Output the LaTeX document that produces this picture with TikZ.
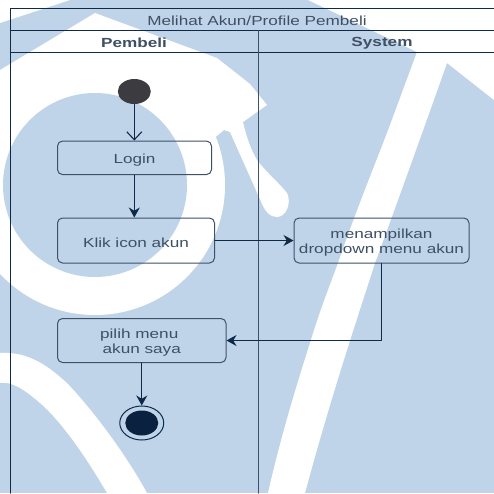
\documentclass[tikz,border=0pt]{standalone}
\usepackage{fontspec}
\setmainfont{Liberation Sans}[FakeStretch=1.3]
\usepackage{xcolor}
\usetikzlibrary{arrows.meta}
\usetikzlibrary{shapes.geometric}
\newcommand{\lowertext}[1]{\raisebox{-2pt}[\height][\depth]{#1}}
\definecolor{wmblue}{HTML}{BFD4E9}
\definecolor{navyline}{HTML}{0F2A47}
\definecolor{boxline}{HTML}{3D5268}
\definecolor{textgray}{HTML}{3F5064}
\definecolor{startgray}{HTML}{3C3C40}
\definecolor{endnavy}{HTML}{0A2240}
\tikzset{
  every node/.style={font=\fontsize{13.2}{15.4}\selectfont,text=textgray,inner sep=0pt},
  action/.style={draw=boxline,line width=1pt,rounded corners=5pt,align=center},
  lanehead/.style={font=\fontsize{13.2}{15.4}\selectfont\bfseries}
}
\begin{document}
\begin{tikzpicture}[line cap=round,line join=round,>={Stealth[length=10pt,width=11pt]},x=1pt,y=-1pt]
            \useasboundingbox (0,0) rectangle (494,493);
            \fill[color=wmblue] (0,0) rectangle (494,493);
            % watermark, white parts
            \fill[white] (0,0) -- (70,0) -- (0,23) -- cycle;
            \fill[white] (95,185) circle (130);
            \fill[white] (0,70) -- (95,13) -- (217,58) -- (250,84) -- (267,105) -- (243,122)
                .. controls (246,135) and (250,148) .. (257,160)
                .. controls (266,172) and (280,184) .. (287,193)
                .. controls (292,203) and (286,217) .. (277,217)
                .. controls (270,217) and (266,212) .. (263,206)
                -- (230,132) -- (224,130) -- (200,150) -- (0,150) -- cycle;
            \fill[wmblue] (95,185) circle (92);
            \fill[white] (308,0) -- (494,0) -- (494,100) -- (447,63)
                .. controls (425,125) and (400,195) .. (375,263)
                .. controls (355,325) and (330,400) .. (305,493) -- (268,493)
                .. controls (280,440) and (295,390) .. (310,343)
                .. controls (320,310) and (330,285) .. (338,263)
                .. controls (360,200) and (375,165) .. (390,125) -- (417,52) -- cycle;
            \fill[white] (0,353) .. controls (30,351) and (50,368) .. (67,383)
                .. controls (100,418) and (130,462) .. (147,493) -- (107,493)
                .. controls (85,455) and (60,420) .. (40,403)
                .. controls (25,390) and (12,381) .. (0,383) -- cycle;
            % swimlane
            \draw [line width=1pt,color=navyline] (10.5,493) -- (10.5,8) -- (494,8);
            \draw [line width=1pt,color=navyline] (10.5,30.5) -- (494,30.5);
            \draw [line width=1pt,color=navyline] (10.5,52.5) -- (494,52.5);
            \draw [line width=1pt,color=boxline] (258,30.5) -- (258,493);
            \node (title) at (257,21) {Melihat Akun/Profile Pembeli};
            \node[lanehead] (pembeli) at (134,43) {Pembeli};
            \node[lanehead] (system) at (382,43) {System};
            % nodes
            \node[ellipse,fill=startgray,minimum width=33pt,minimum height=25pt] (start) at (134.3,91.5) {};
            \node[action,minimum width=154pt,minimum height=33.5pt] (login) at (134.5,157.8) {\lowertext{Login}};
            \node[action,minimum width=157pt,minimum height=45pt] (klik) at (136,240.5) {\lowertext{Klik icon akun}};
            \node[action,minimum width=175pt,minimum height=45pt] (tampil) at (381.5,240.5) {\lowertext{menampilkan}\\\lowertext{dropdown menu akun}};
            \node[action,minimum width=168.5pt,minimum height=44pt] (pilih) at (141.75,340.5) {\lowertext{pilih menu\kern5pt}\\\lowertext{akun saya}};
            \node[ellipse,draw=navyline,line width=1pt,minimum width=44pt,minimum height=34pt] (end) at (141.75,423) {};
            \node[ellipse,fill=endnavy,minimum width=33pt,minimum height=25pt] (endin) at (141.75,423) {};
            % connectors
            \draw [-{Straight Barb[length=8pt,width=15pt]},line width=1.1pt,color=navyline] (start) -- (start |- login.north);
            \draw [->,line width=1.1pt,color=navyline] (start |- login.south) -- (start |- klik.north);
            \draw [->,line width=1.1pt,color=navyline] (klik) -- (tampil);
            \draw [->,line width=1.1pt,color=navyline] (tampil.south) |- (pilih.east);
            \draw [->,line width=1.1pt,color=navyline] (pilih) -- (end);
            \end{tikzpicture}
\end{document}
